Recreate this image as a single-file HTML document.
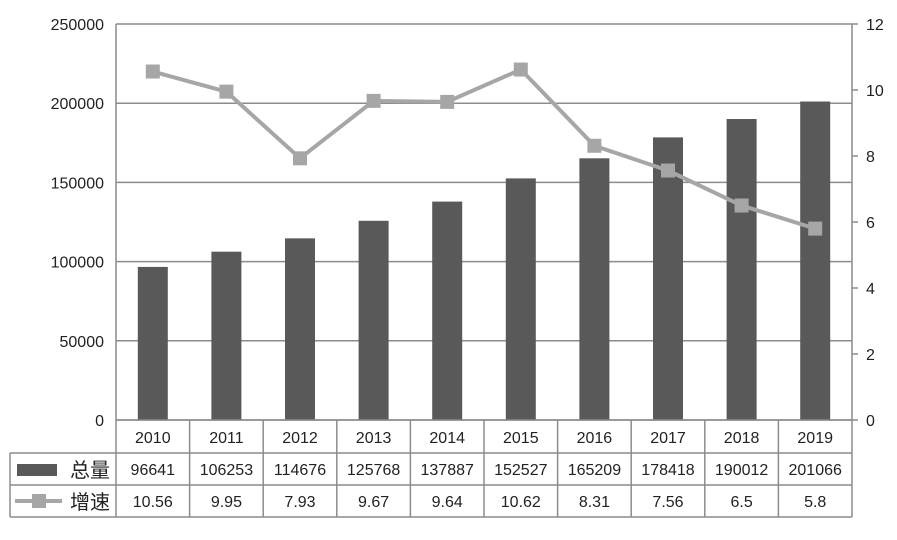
<!DOCTYPE html>
<html><head><meta charset="utf-8"><style>
body{margin:0;background:#fff;width:897px;height:535px;overflow:hidden}
svg{font-family:"Liberation Sans","Noto Sans CJK SC",sans-serif}
</style></head><body>
<svg id="c" width="897" height="535"></svg>
<script>
const years=["2010","2011","2012","2013","2014","2015","2016","2017","2018","2019"];
const totals=[96641,106253,114676,125768,137887,152527,165209,178418,190012,201066];
const growth=[10.56,9.95,7.93,9.67,9.64,10.62,8.31,7.56,6.5,5.8];
const growthLabels=["10.56","9.95","7.93","9.67","9.64","10.62","8.31","7.56","6.5","5.8"];
const leftTicks=[0,50000,100000,150000,200000,250000];
const rightTicks=[0,2,4,6,8,10,12];

const svg=document.getElementById('c');
const NS="http://www.w3.org/2000/svg";
const L=116,R=852,T=24,B=420;
const cw=(R-L)/years.length;
const yL=v=>B-(v/250000)*(B-T);
const yR=v=>B-(v/12)*(B-T);
const xC=i=>L+cw*(i+0.5);
function mk(tag,a,name){const e=document.createElementNS(NS,tag);for(const k in a)e.setAttribute(k,a[k]);


svg.appendChild(e);return e;}
function txt(x,y,s,anchor,name,size){const t=mk('text',{x:x,y:y,'text-anchor':anchor,'font-size':size||16,fill:'#222'},name);t.textContent=s;return t;}

leftTicks.forEach(v=>{
  mk('line',{x1:L,x2:R,y1:yL(v),y2:yL(v),stroke:'#8c8c8c','stroke-width':1.5},'gridline');
  txt(104,yL(v)+6,String(v),'end','y-tick-label');
});
rightTicks.forEach(v=>{
  mk('line',{x1:R,x2:R+6,y1:yR(v),y2:yR(v),stroke:'#8c8c8c','stroke-width':1.5},'right-tick');
  txt(866,yR(v)+6,String(v),'start','y2-tick-label');
});
mk('line',{x1:L,x2:L,y1:T,y2:B,stroke:'#8c8c8c','stroke-width':1.5},'left-axis');
mk('line',{x1:R,x2:R,y1:T,y2:B,stroke:'#8c8c8c','stroke-width':1.5},'right-axis');

totals.forEach((v,i)=>{
  mk('rect',{x:xC(i)-15,y:yL(v),width:30,height:B-yL(v),fill:'#595959'},'bar-'+years[i]);
});
const pts=growth.map((v,i)=>xC(i)+','+yR(v)).join(' ');
mk('polyline',{points:pts,fill:'none',stroke:'#a6a6a6','stroke-width':4},'growth-line');
growth.forEach((v,i)=>{
  mk('rect',{x:xC(i)-7,y:yR(v)-7,width:14,height:14,fill:'#a6a6a6'},'growth-point-'+years[i]);
});

// table
const rows=[420,453,485,517];
const tc='#8c8c8c';
mk('line',{x1:L,x2:R,y1:420,y2:420,stroke:tc,'stroke-width':1.5},'table-line');
mk('line',{x1:10,x2:R,y1:453,y2:453,stroke:tc,'stroke-width':1.5},'table-line');
mk('line',{x1:10,x2:R,y1:485,y2:485,stroke:tc,'stroke-width':1.5},'table-line');
mk('line',{x1:10,x2:R,y1:517,y2:517,stroke:tc,'stroke-width':1.5},'table-line');
mk('line',{x1:10,x2:10,y1:453,y2:517,stroke:tc,'stroke-width':1.5},'table-line');
for(let i=0;i<=years.length;i++){
  mk('line',{x1:L+cw*i,x2:L+cw*i,y1:420,y2:517,stroke:tc,'stroke-width':1.5},'table-line');
}
years.forEach((y,i)=>{
  txt(xC(i),443,y,'middle','year-label');
  txt(xC(i),475,String(totals[i]),'middle','total-value');
  txt(xC(i),507,growthLabels[i],'middle','growth-value');
});
mk('rect',{x:17,y:464,width:40,height:12,fill:'#595959'},'legend-bar-key');
txt(70,477,'总量','start','legend-total',20);
mk('line',{x1:15,x2:62,y1:501,y2:501,stroke:'#a6a6a6','stroke-width':4},'legend-line-key');
mk('rect',{x:32,y:494,width:14,height:14,fill:'#a6a6a6'},'legend-line-marker');
txt(70,509,'增速','start','legend-growth',20);
</script>
</body></html>
